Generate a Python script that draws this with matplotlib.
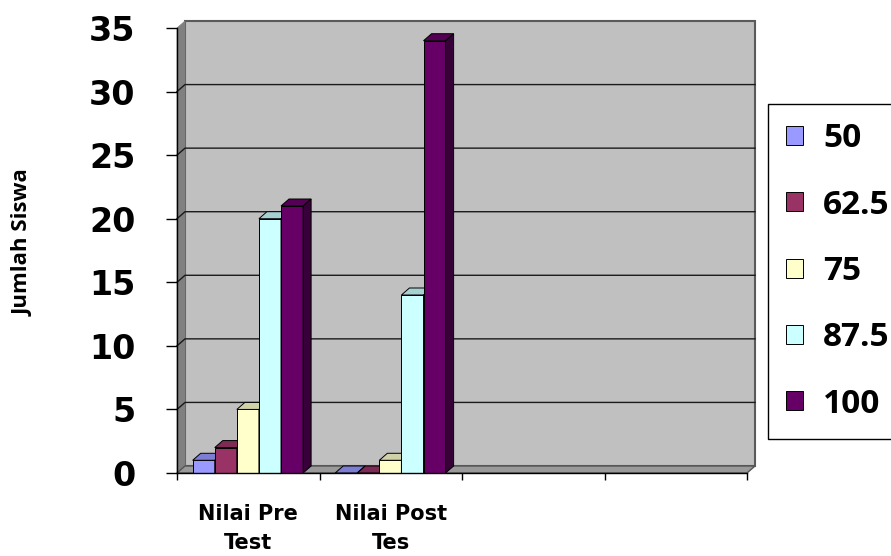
import matplotlib
matplotlib.use('Agg')
import matplotlib.pyplot as plt
from matplotlib.patches import Polygon
from matplotlib.colors import to_rgb

# counts of students per score, before and after
categories = ['Nilai Pre\nTest', 'Nilai Post\nTes']
n_slots = 4
score_labels = ['50', '62.5', '75', '87.5', '100']
pre_test = [1, 2, 5, 20, 21]
post_test = [0, 0, 1, 14, 34]
colors = ['#9999FF', '#993366', '#FFFFCC', '#CCFFFF', '#660066']
y_ticks = [0, 5, 10, 15, 20, 25, 30, 35]

W, H = 891, 556
fig = plt.figure(figsize=(W / 100, H / 100), dpi=100)
ax_l, ax_r, ax_t, ax_b = 177, 747, 28, 473
ax = fig.add_axes([ax_l / W, 1 - ax_b / H, (ax_r - ax_l) / W, (ax_b - ax_t) / H])
ax.set_xlim(0, n_slots)
ax.set_ylim(0, y_ticks[-1])
ax.patch.set_visible(False)

# depth of the fake 3d box, pixels -> data units
px_x = n_slots / (ax_r - ax_l)
px_y = y_ticks[-1] / (ax_b - ax_t)
dx, dy = 8 * px_x, 7 * px_y
ymax = y_ticks[-1]


def shade(c, f):
    r, g, b = to_rgb(c)
    return (r * f, g * f, b * f)


# walls and floor
ax.add_patch(Polygon([(dx, dy), (n_slots + dx, dy), (n_slots + dx, ymax + dy), (dx, ymax + dy)],
                     closed=True, facecolor='#C0C0C0', edgecolor='#5a5a5a', lw=1.5,
                     zorder=0.5, clip_on=False))
ax.add_patch(Polygon([(0, 0), (dx, dy), (dx, ymax + dy), (0, ymax)], closed=True,
                     facecolor='#808080', edgecolor='#808080', lw=0.5, zorder=0.6, clip_on=False))
ax.add_patch(Polygon([(0, 0), (n_slots, 0), (n_slots + dx, dy), (dx, dy)], closed=True,
                     facecolor='#9a9a9a', edgecolor='#555555', lw=1, zorder=0.7, clip_on=False))
for y in y_ticks[1:-1]:
    ax.plot([0, dx, n_slots + dx], [y, y + dy, y + dy], color='#1a1a1a', lw=1,
            zorder=0.65, clip_on=False)

# bars with top and side faces
bar_w = 0.155
group_left = 0.11
handles = []
for i, (lab, c) in enumerate(zip(score_labels, colors)):
    vals = [pre_test[i], post_test[i]]
    xs = [k + group_left + i * bar_w for k in range(len(categories))]
    z = 2 + i
    bc = ax.bar(xs, vals, width=bar_w, align='edge', color=c, edgecolor='black',
                lw=0.7, zorder=z, label=lab)
    handles.append(bc)
    for x0, v in zip(xs, vals):
        x1 = x0 + bar_w
        ax.add_patch(Polygon([(x0, v), (x0 + dx, v + dy), (x1 + dx, v + dy), (x1, v)],
                             closed=True, facecolor=shade(c, 0.82), edgecolor='black',
                             lw=0.7, zorder=z, clip_on=False))
        ax.add_patch(Polygon([(x1, 0), (x1 + dx, dy), (x1 + dx, v + dy), (x1, v)],
                             closed=True, facecolor=shade(c, 0.55), edgecolor='black',
                             lw=0.7, zorder=z, clip_on=False))

# axes
for s in ['top', 'right']:
    ax.spines[s].set_visible(False)
for s in ['left', 'bottom']:
    ax.spines[s].set_color('black')
    ax.spines[s].set_linewidth(1)
    ax.spines[s].set_zorder(10)

ax.set_yticks(y_ticks)
ax.tick_params(axis='y', direction='out', length=8, width=1, pad=22, labelsize=24)
for t in ax.get_yticklabels():
    t.set_fontfamily('DejaVu Sans')
    t.set_fontweight('bold')

ax.set_xticks(range(n_slots + 1))
ax.set_xticklabels([])
ax.tick_params(axis='x', which='major', direction='out', length=5, width=1)
ax.set_xticks([k + 0.5 for k in range(len(categories))], minor=True)
ax.set_xticklabels(categories, minor=True, fontsize=15, fontweight='bold',
                   fontfamily='DejaVu Sans', linespacing=1.6)
ax.tick_params(axis='x', which='minor', length=0, pad=22)

ax.set_ylabel('Jumlah Siswa', fontsize=16, fontweight='bold', fontfamily='Open Sans')
ax.yaxis.set_label_coords((34 - ax_l) / (ax_r - ax_l), (ax_b - 243) / (ax_b - ax_t))

leg = ax.legend(handles=handles, labels=score_labels, loc='upper left',
                bbox_to_anchor=(768 / W, 1 - 104 / H), bbox_transform=fig.transFigure,
                prop={'family': 'Open Sans', 'weight': 'bold', 'size': 24},
                frameon=True, fancybox=False, shadow=False, framealpha=1,
                edgecolor='black', borderaxespad=0, borderpad=0.55,
                handlelength=0.5, handleheight=0.5, handletextpad=0.6,
                labelspacing=1.0)
leg.get_frame().set_linewidth(1)

fig.savefig('out.png', dpi=100, facecolor='white')
